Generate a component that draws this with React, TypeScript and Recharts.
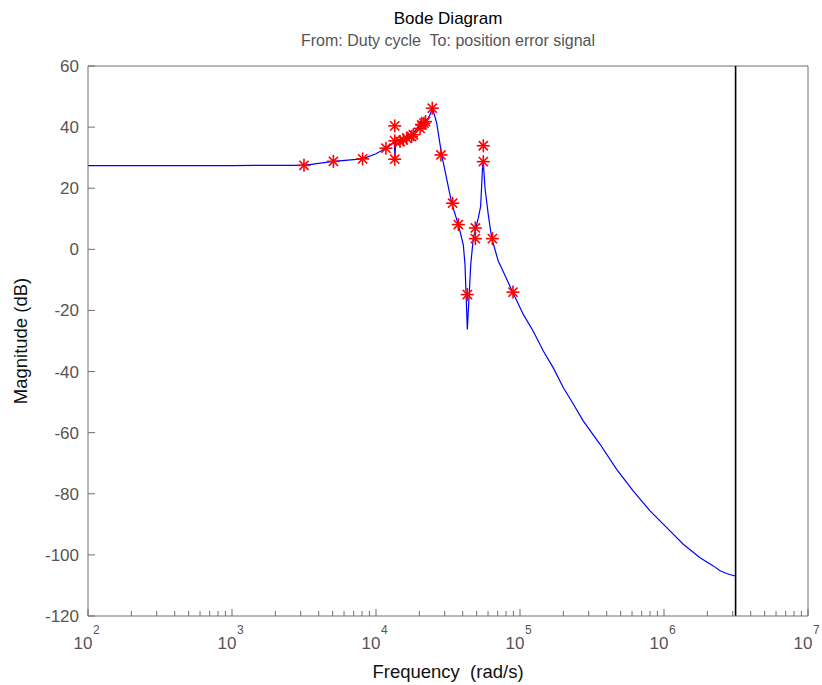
import React from 'react';
import { ComposedChart, Line, Scatter, XAxis, YAxis, ReferenceLine } from 'recharts';

// Bode magnitude curve (frequency rad/s, magnitude dB)
const curveFreq = [
  100, 1000, 2000, 3162, 5060, 8070, 10000, 11720, 13400, 13550, 13700, 15490, 17200, 18150,
  20200, 23080, 24750, 26400, 28600, 33550, 37300, 40400, 41500, 43070, 45500, 47400, 51300,
  53300, 55050, 55640, 57150, 60250, 63600, 70700, 72600, 88900, 105400, 123600, 145200,
  170300, 200000, 228400, 275400, 359700, 469000, 612600, 800000, 1045000, 1361000, 1778000,
  2200000, 2450000, 2720000, 3110000,
];
const curveMag = [
  27.4, 27.4, 27.5, 27.5, 28.8, 29.6, 31.3, 33.1, 35.0, 29.8, 35.5, 35.8, 36.9, 38.0,
  40.8, 42.9, 46.0, 41.3, 30.9, 15.1, 8.1, 1.5, -5.0, -26.2, -5.0, 3.7, 10.2,
  14.1, 27.7, 28.4, 20.0, 11.3, 3.7, -3.9, -5.0, -14.0, -21.3, -26.8, -33.3,
  -38.8, -45.3, -49.7, -56.2, -63.8, -72.0, -79.1, -85.6, -91.1, -96.5, -100.9,
  -103.6, -105.2, -106.1, -106.9,
];

// Measured points (red stars)
const starFreq = [
  3162, 5060, 8070, 11720, 13490, 13490, 13490, 14690, 15490, 16330, 17650, 18150, 20230,
  20760, 21530, 22090, 24600, 28250, 34050, 37300, 43070, 48970, 48970, 55640, 55640, 64300, 89400,
];
const starMag = [
  27.5, 28.8, 29.6, 33.1, 40.4, 29.5, 35.5, 35.3, 35.8, 36.4, 36.9, 37.5, 39.6,
  40.7, 41.3, 41.8, 46.2, 30.9, 15.1, 8.1, -14.8, 7.0, 3.5, 33.9, 28.7, 3.5, -14.0,
];

const nyquistFreq = 3.1416e6;

const xDomain = [100, 1e7];
const yDomain = [-120, 60];
const xMajorTicks = [1e2, 1e3, 1e4, 1e5, 1e6, 1e7];
const xMinorMultipliers = [2, 3, 4, 5, 6, 7, 8, 9];
const yTicks = [-120, -100, -80, -60, -40, -20, 0, 20, 40, 60];

const titleText = 'Bode Diagram';
const subtitleText = 'From: Duty cycle\u00a0 To: position error signal';
const xLabelText = 'Frequency\u00a0 (rad/s)';
const yLabelText = 'Magnitude (dB)';

const curveData = curveFreq.map((f, i) => ({ f, mag: curveMag[i] }));
const starData = starFreq.map((f, i) => ({ f, mag: starMag[i] }));
const xTicks: number[] = [];
xMajorTicks.forEach((t) => {
  xTicks.push(t);
  if (t < 1e7) xMinorMultipliers.forEach((m) => xTicks.push(t * m));
});

const AXIS = '#6f6f6f';
const LABEL = '#555555';
const FONT = '"Liberation Sans", Arial, Helvetica, sans-serif';
const FS = 17;

const isMajor = (v: number) => {
  const l = Math.log10(v);
  return Math.abs(l - Math.round(l)) < 1e-6;
};

const BottomTick = (props: any) => {
  const { x, y, payload } = props;
  const v = payload.value;
  const major = isMajor(v);
  const exp = Math.round(Math.log10(v));
  return (
    <g>
      <line x1={x} x2={x} y1={y} y2={y - (major ? 7 : 5)} stroke={AXIS} strokeWidth={1} />
      {major && (
        <text x={x - 5} y={y + 33} textAnchor="middle" fontSize={FS} fill={LABEL} fontFamily={FONT}>
          10
        </text>
      )}
      {major && (
        <text x={x + 5} y={y + 18} textAnchor="start" fontSize={12} fill={LABEL} fontFamily={FONT}>
          {exp}
        </text>
      )}
    </g>
  );
};

const TopTick = (props: any) => {
  const { x, y, payload } = props;
  const major = isMajor(payload.value);
  return <line x1={x} x2={x} y1={y} y2={y + (major ? 7 : 5)} stroke={AXIS} strokeWidth={1} />;
};

const LeftTick = (props: any) => {
  const { x, y, payload } = props;
  return (
    <g>
      <line x1={x} x2={x + 7} y1={y} y2={y} stroke={AXIS} strokeWidth={1} />
      <text x={x - 9} y={y + 6} textAnchor="end" fontSize={FS} fill={LABEL} fontFamily={FONT}>
        {payload.value}
      </text>
    </g>
  );
};

const RightTick = (props: any) => {
  const { x, y } = props;
  return <line x1={x} x2={x - 7} y1={y} y2={y} stroke={AXIS} strokeWidth={1} />;
};

const Star = (props: any) => {
  const { cx, cy } = props;
  if (cx == null || cy == null) return null;
  const a = 6.5;
  const d = 4.6;
  return (
    <g stroke="#ff0000" strokeWidth={1.6}>
      <line x1={cx - a} x2={cx + a} y1={cy} y2={cy} />
      <line x1={cx} x2={cx} y1={cy - a} y2={cy + a} />
      <line x1={cx - d} x2={cx + d} y1={cy - d} y2={cy + d} />
      <line x1={cx - d} x2={cx + d} y1={cy + d} y2={cy - d} />
    </g>
  );
};

export default function App() {
  return (
    <div style={{ position: 'absolute', left: 0, top: 0, width: 822, height: 685, background: '#fff' }}>
      <div
        style={{
          position: 'absolute', left: 88, width: 720, top: 8, textAlign: 'center',
          fontFamily: FONT, fontSize: FS, color: '#000', lineHeight: '22px',
        }}
      >
        {titleText}
      </div>
      <div
        style={{
          position: 'absolute', left: 88, width: 720, top: 30, textAlign: 'center',
          fontFamily: FONT, fontSize: 16, color: LABEL, lineHeight: '22px',
        }}
      >
        {subtitleText}
      </div>
      <ComposedChart
        width={822}
        height={685}
        data={curveData}
        margin={{ top: 66, right: 14, bottom: 0, left: 0 }}
      >
        <XAxis
          dataKey="f"
          type="number"
          scale="log"
          domain={xDomain}
          allowDataOverflow
          ticks={xTicks}
          interval={0}
          height={69}
          tickSize={0}
          tickMargin={0}
          tickLine={false}
          axisLine={{ stroke: AXIS }}
          tick={<BottomTick />}
          label={{
            value: xLabelText, position: 'insideBottom', offset: 7,
            style: { fontSize: 18.5, fill: '#111', fontFamily: FONT },
          }}
        />
        <XAxis
          xAxisId="top"
          orientation="top"
          dataKey="f"
          type="number"
          scale="log"
          domain={xDomain}
          allowDataOverflow
          ticks={xTicks}
          interval={0}
          height={0}
          tickSize={0}
          tickMargin={0}
          tickLine={false}
          axisLine={{ stroke: AXIS }}
          tick={<TopTick />}
        />
        <YAxis
          type="number"
          domain={yDomain}
          ticks={yTicks}
          interval={0}
          width={88}
          tickSize={0}
          tickMargin={0}
          tickLine={false}
          axisLine={{ stroke: AXIS }}
          tick={<LeftTick />}
          label={{
            value: yLabelText, angle: -90, position: 'insideLeft', offset: 20,
            style: { fontSize: 18.5, fill: '#111', fontFamily: FONT, textAnchor: 'middle' },
          }}
        />
        <YAxis
          yAxisId="right"
          orientation="right"
          type="number"
          domain={yDomain}
          ticks={yTicks}
          interval={0}
          width={0}
          tickSize={0}
          tickMargin={0}
          tickLine={false}
          axisLine={{ stroke: AXIS }}
          tick={<RightTick />}
        />
        <ReferenceLine y={yDomain[1]} stroke={AXIS} strokeWidth={1} />
        <ReferenceLine x={xDomain[1]} stroke={AXIS} strokeWidth={1} />
        <ReferenceLine x={nyquistFreq} stroke="#000" strokeWidth={1.6} />
        <Line
          data={curveData}
          dataKey="mag"
          type="linear"
          stroke="#0000ff"
          strokeWidth={1.2}
          dot={false}
          activeDot={false}
          isAnimationActive={false}
        />
        <Scatter data={starData} dataKey="mag" shape={<Star />} isAnimationActive={false} />
      </ComposedChart>
    </div>
  );
}
